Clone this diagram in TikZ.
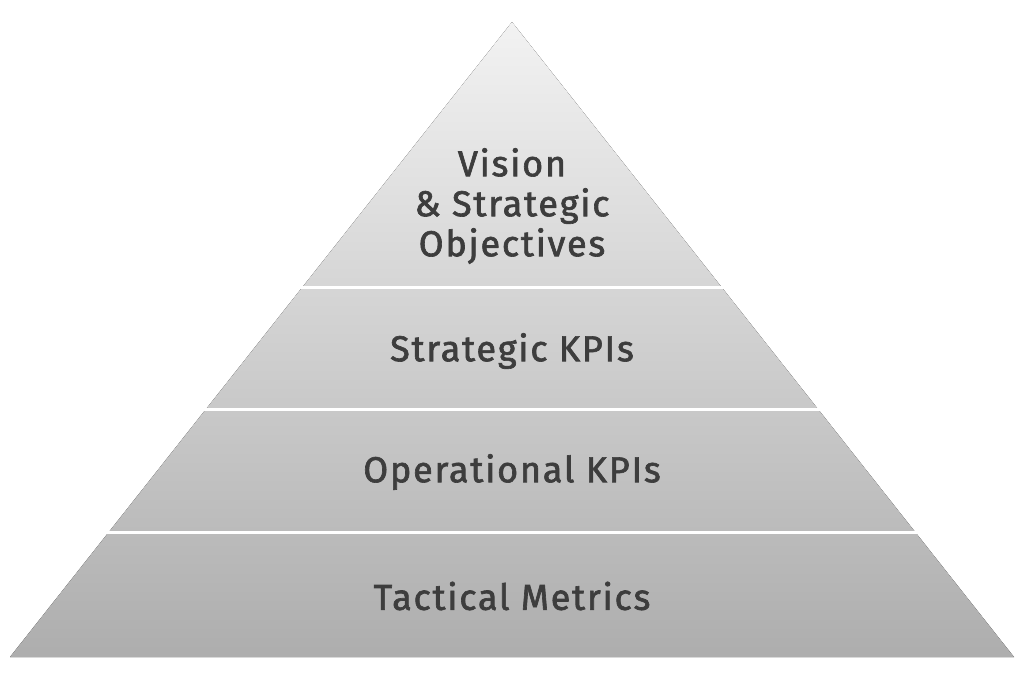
\documentclass[tikz,border=0pt]{standalone}
\usepackage{fontspec}
\setmainfont{Fira Sans}
\begin{document}
\begin{tikzpicture}[x=1pt,y=-1pt,
  lbl/.style={font=\fontsize{36}{40}\selectfont\addfontfeature{FakeBold=1.8,LetterSpace=5}, text=black!76, align=center},
  sep/.style={draw=white, line width=3pt}]
\useasboundingbox (0,0) rectangle (1024,683);
\fill[top color=black!5, bottom color=black!32] (512,22) -- (1014,657) -- (10,657) -- cycle;
\draw[sep] (250,287) -- (780,287);
\draw[sep] (150,409) -- (880,409);
\draw[sep] (50,532) -- (980,532);
\node[lbl] (t1) at (512,206) {Vision\\\& Strategic\\Objectives};
\node[lbl] (t2) at (512,351) {Strategic KPIs};
\node[lbl] (t3) at (512,472) {Operational KPIs};
\node[lbl] (t4) at (512,596) {Tactical Metrics};
\end{tikzpicture}
\end{document}
